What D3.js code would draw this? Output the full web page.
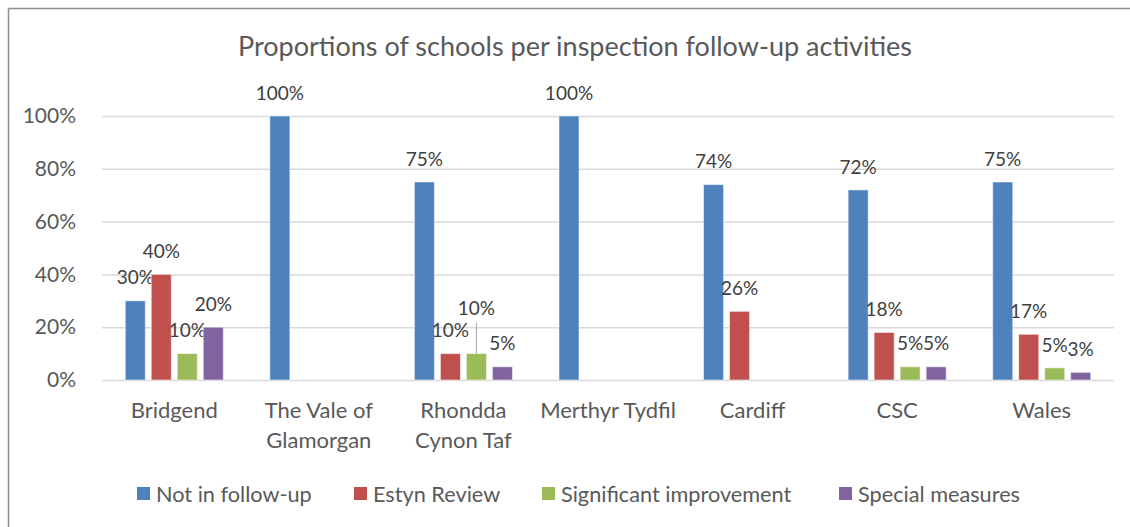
<!DOCTYPE html>
<meta charset="utf-8">
<script src="https://d3js.org/d3.v7.min.js"></script>
<style>
  body { margin: 0; background: #fff; }
  text { font-family: Lato, "Open Sans", sans-serif; }
</style>
<div id="chart"></div>
<script>

// categories (some names split over two lines, as in the original)
var categories = ["Bridgend", "The Vale of|Glamorgan", "Rhondda|Cynon Taf", "Merthyr Tydfil", "Cardiff", "CSC", "Wales"];
var series = ["Not in follow-up", "Estyn Review", "Significant improvement", "Special measures"];
var colors = ["#4F81BD", "#C0504D", "#9BBB59", "#8064A2"];

// one array per series, same order as categories (null = no bar)
var notInFollowUp = [0.30, 1.00, 0.75, 1.00, 0.74, 0.72, 0.75];
var estynReview   = [0.40, null, 0.10, null, 0.26, 0.18, 0.173];
var sigImprove    = [0.10, null, 0.10, null, null, 0.05, 0.046];
var specialMeas   = [0.20, null, 0.05, null, null, 0.05, 0.029];
var yTicks = [0, 0.2, 0.4, 0.6, 0.8, 1.0];

var values = [notInFollowUp, estynReview, sigImprove, specialMeas];

var W = 1130, H = 527;
var margin = {top: 116, right: 16, bottom: 147, left: 102};
var width = W - margin.left - margin.right,
    height = H - margin.top - margin.bottom;

var svg = d3.select("#chart").append("svg")
    .attr("width", W)
    .attr("height", H);

// outer chart border (only top and left show in the crop)
svg.append("line").attr("x1", 8.5).attr("x2", W).attr("y1", 8.5).attr("y2", 8.5)
  .attr("stroke", "#8c8c8c").attr("stroke-width", 1.5);
svg.append("line").attr("x1", 8.5).attr("x2", 8.5).attr("y1", 8.5).attr("y2", H)
  .attr("stroke", "#8c8c8c").attr("stroke-width", 1.5);

// title
svg.append("text")
  .attr("x", 575).attr("y", 47).attr("dy", "0.35em")
  .attr("text-anchor", "middle")
  .style("font-size", "27px")
  .attr("fill", "#595959")
  .text("Proportions of schools per inspection follow-up activities");

var g = svg.append("g").attr("transform", "translate(" + margin.left + "," + margin.top + ")");

var x = d3.scaleBand().domain(categories).range([0, width]);
var xSub = d3.scaleBand().domain(series).range([0, 104]).paddingInner(0.23).paddingOuter(0.115);
var y = d3.scaleLinear().domain([0, 1]).range([height, 0]);

// gridlines
g.append("g")
  .call(d3.axisLeft(y).tickValues(yTicks).tickSize(-width).tickFormat(""))
  .call(function(s) {
    s.select(".domain").remove();
    s.selectAll("line").attr("stroke", "#d9d9d9").attr("stroke-width", 1.5);
  });

// y axis labels
g.append("g")
  .attr("transform", "translate(-23,0)")
  .call(d3.axisLeft(y).tickValues(yTicks).tickSize(0).tickFormat(d3.format(".0%")))
  .call(function(s) {
    s.select(".domain").remove();
    s.selectAll("text").attr("fill", "#595959").style("font-size", "21px");
  });

// category labels
var xAxis = g.append("g")
  .attr("transform", "translate(0," + height + ")")
  .call(d3.axisBottom(x).tickSize(0).tickFormat(""));
xAxis.select(".domain").remove();
xAxis.selectAll(".tick").each(function(d) {
  var lines = d.split("|");
  var t = d3.select(this).append("text")
    .attr("fill", "#595959")
    .attr("text-anchor", "middle")
    .style("font-size", "22px");
  lines.forEach(function(l, i) {
    t.append("tspan").attr("x", 0).attr("y", 30 + i * 30).attr("dy", "0.35em").text(l);
  });
});

// bars
var rows = [];
categories.forEach(function(c, ci) {
  series.forEach(function(s, si) {
    var v = values[si][ci];
    if (v !== null) rows.push({cat: c, key: s, idx: si, value: v});
  });
});

var grp = g.selectAll(".bar").data(rows).enter().append("g")
  .attr("transform", function(d) { return "translate(" + (x(d.cat) + x.bandwidth() / 2 - 52) + ",0)"; });

grp.append("rect")
  .attr("x", function(d) { return xSub(d.key); })
  .attr("y", function(d) { return y(d.value); })
  .attr("width", xSub.bandwidth())
  .attr("height", function(d) { return height - y(d.value); })
  .attr("fill", function(d) { return colors[d.idx]; })
  .attr("stroke", "#ffffff")
  .attr("stroke-opacity", 0.5)
  .attr("stroke-width", 1);

// data labels; the Rhondda "Significant improvement" label was dragged up with a leader line
function labelShift(d) { return (d.cat === "Rhondda|Cynon Taf" && d.idx === 2) ? 22 : 0; }

grp.filter(function(d) { return labelShift(d) > 0; }).append("line")
  .attr("x1", function(d) { return xSub(d.key) + xSub.bandwidth() / 2; })
  .attr("x2", function(d) { return xSub(d.key) + xSub.bandwidth() / 2; })
  .attr("y1", function(d) { return y(d.value) - 31; })
  .attr("y2", function(d) { return y(d.value); })
  .attr("stroke", "#a6a6a6").attr("stroke-width", 1);

grp.append("text")
  .attr("x", function(d) { return xSub(d.key) + xSub.bandwidth() / 2; })
  .attr("y", function(d) { return y(d.value) - 23 - labelShift(d); })
  .attr("dy", "0.35em")
  .attr("text-anchor", "middle")
  .attr("fill", "#404040")
  .style("font-size", "19px")
  .text(function(d) { return d3.format(".0%")(d.value); });

// legend
var legend = svg.append("g").attr("transform", "translate(0,494)");
var legX = [137, 354, 542, 839];
series.forEach(function(s, i) {
  legend.append("rect").attr("x", legX[i]).attr("y", -7).attr("width", 13).attr("height", 13).attr("fill", colors[i]);
  legend.append("text").attr("x", legX[i] + 19).attr("y", 0).attr("dy", "0.35em")
    .attr("fill", "#595959").style("font-size", "21.7px").text(s);
});

</script>
